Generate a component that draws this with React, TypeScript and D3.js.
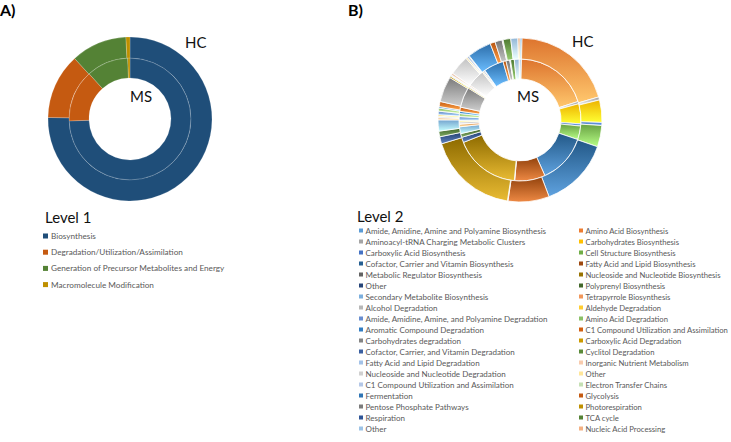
import React from 'react';
import * as d3 from 'd3';

// Level 1 (panel A)
const level1Categories = [
  'Biosynthesis',
  'Degradation/Utilization/Assimilation',
  'Generation of Precursor Metabolites and Energy',
  'Macromolecule Modification',
];
const level1HC = [75.3, 12.9, 11.0, 0.8];
const level1MS = [74.5, 13.8, 11.1, 0.6];
const level1Colors = ['#1F4E79', '#C55A11', '#548235', '#BF9000'];

// Level 2 (panel B), legend order
const level2Categories = [
  'Amide, Amidine, Amine and Polyamine Biosynthesis',
  'Amino Acid Biosynthesis',
  'Aminoacyl-tRNA Charging Metabolic Clusters',
  'Carbohydrates Biosynthesis',
  'Carboxylic Acid Biosynthesis',
  'Cell Structure Biosynthesis',
  'Cofactor, Carrier and Vitamin Biosynthesis',
  'Fatty Acid and Lipid Biosynthesis',
  'Metabolic Regulator Biosynthesis',
  'Nucleoside and Nucleotide Biosynthesis',
  'Other',
  'Polyprenyl Biosynthesis',
  'Secondary Metabolite Biosynthesis',
  'Tetrapyrrole Biosynthesis',
  'Alcohol Degradation',
  'Aldehyde Degradation',
  'Amide, Amidine, Amine, and Polyamine Degradation',
  'Amino Acid Degradation',
  'Aromatic Compound Degradation',
  'C1 Compound Utilization and Assimilation',
  'Carbohydrates degradation',
  'Carboxylic Acid Degradation',
  'Cofactor, Carrier, and Vitamin Degradation',
  'Cyclitol Degradation',
  'Fatty Acid and Lipid Degradation',
  'Inorganic Nutrient Metabolism',
  'Nucleoside and Nucleotide Degradation',
  'Other',
  'C1 Compound Utilization and Assimilation',
  'Electron Transfer Chains',
  'Fermentation',
  'Glycolysis',
  'Pentose Phosphate Pathways',
  'Photorespiration',
  'Respiration',
  'TCA cycle',
  'Other',
  'Nucleic Acid Processing',
];
const level2HC = [
  0.4, 20.0, 0.6, 4.4, 0.6, 4.2, 13.9, 8.1, 0.1, 17.8, 1.4, 1.1, 2.2, 0.4,
  0.3, 0.3, 0.7, 0.6, 0.3, 1.0, 5.0, 0.3, 0.1, 0.1, 0.1, 0.4, 3.9, 0.3, 0.4,
  0.1, 4.7, 1.0, 1.4, 0.1, 0.1, 1.5, 1.4, 0.4,
];
const level2MS = [
  0.4, 19.7, 0.6, 5.3, 0.6, 3.6, 13.1, 8.1, 0.1, 17.5, 1.4, 1.0, 1.8, 0.7,
  0.6, 0.4, 1.0, 0.8, 0.6, 1.1, 5.4, 0.3, 0.1, 0.1, 0.1, 0.3, 4.7, 0.3, 0.4,
  0.1, 5.3, 0.8, 1.0, 0.1, 0.1, 1.0, 1.3, 0.2,
];
const level2Colors = [
  '#5B9BD5', '#ED7D31', '#A5A5A5', '#FFC000', '#4472C4', '#70AD47',
  '#255E91', '#9E480E', '#636363', '#997300', '#264478', '#43682B',
  '#7CAFDD', '#F1975A', '#B7B7B7', '#FFCD33', '#698ED0', '#8CC168',
  '#327DC2', '#D26012', '#848484', '#CC9A00', '#3A5FA0', '#5A8A39',
  '#A3C2E8', '#F8CBAD', '#D0D0D0', '#FFE699', '#B4C7E7', '#C5E0B4',
  '#2F75B5', '#C55A11', '#7B7B7B', '#BF9000', '#2F5597', '#548235',
  '#9DC3E6', '#F4B183',
];

const FONT = 'Lato, "Open Sans", sans-serif';
const R_IN = 41;
const R_MID = 61;
const R_OUT = 82;

const pie = d3.pie<number>().sort(null).value((d) => d);
const arcInner = d3.arc<d3.PieArcDatum<number>>().innerRadius(R_IN).outerRadius(R_MID);
const arcOuter = d3.arc<d3.PieArcDatum<number>>().innerRadius(R_MID).outerRadius(R_OUT);

const gradId = (i: number) => `g2-${i}`;

const Donut: React.FC<{
  cx: number;
  cy: number;
  inner: number[];
  outer: number[];
  colors: string[];
  gradient?: boolean;
}> = ({ cx, cy, inner, outer, colors, gradient }) => {
  const fill = (i: number) => (gradient ? `url(#${gradId(i)})` : colors[i]);
  const stroke = gradient ? '#fff' : 'rgba(255,255,255,0.35)';
  const sw = gradient ? 0.8 : 0.5;
  return (
    <g transform={`translate(${cx},${cy})`}>
      {pie(inner).map((d, i) => (
        <path key={`i${i}`} d={arcInner(d) || ''} fill={fill(i)} stroke={stroke} strokeWidth={sw} />
      ))}
      {pie(outer).map((d, i) => (
        <path key={`o${i}`} d={arcOuter(d) || ''} fill={fill(i)} stroke={stroke} strokeWidth={sw} />
      ))}
    </g>
  );
};

const App: React.FC = () => {
  return (
    <svg
      width={731}
      height={442}
      style={{ position: 'absolute', left: 0, top: 0, background: '#fff' }}
      fontFamily={FONT}
    >
      <defs>
        {level2Colors.map((c, i) => {
          const top = d3.color(c)!.darker(0.2).formatHex();
          const bot = d3.interpolateRgb(d3.color(c)!.brighter(1.1).formatHex(), '#ffffff')(0.2);
          return (
            <linearGradient key={i} id={gradId(i)} x1="0" y1="0" x2="0" y2="1">
              <stop offset="0%" stopColor={top} />
              <stop offset="100%" stopColor={bot} />
            </linearGradient>
          );
        })}
      </defs>

      {/* Panel A */}
      <text x={0} y={16} fontSize={16} fontWeight="bold" fill="#000">A)</text>
      <Donut cx={130} cy={119} inner={level1MS} outer={level1HC} colors={level1Colors} />
      <text x={185} y={48} fontSize={15} fill="#111">HC</text>
      <text x={130} y={102} fontSize={15} fill="#111">MS</text>

      <text x={45} y={223} fontSize={15} fill="#111">Level 1</text>
      {level1Categories.map((c, i) => (
        <g key={c} transform={`translate(43,${236 + i * 16.2})`}>
          <rect x={0} y={-2.5} width={5} height={5} fill={level1Colors[i]} />
          <text x={8} y={3} fontSize={8.2} fill="#595959">{c}</text>
        </g>
      ))}

      {/* Panel B */}
      <text x={348} y={16} fontSize={16} fontWeight="bold" fill="#000">B)</text>
      <Donut cx={520} cy={120} inner={level2MS} outer={level2HC} colors={level2Colors} gradient />
      <text x={572} y={47} fontSize={15} fill="#111">HC</text>
      <text x={517} y={102} fontSize={15} fill="#111">MS</text>

      <text x={357} y={222} fontSize={15} fill="#111">Level 2</text>
      {level2Categories.map((c, i) => {
        const col = i % 2;
        const row = Math.floor(i / 2);
        const x = col === 0 ? 359 : 579;
        const y = 230.5 + row * 11;
        return (
          <g key={i} transform={`translate(${x},${y})`}>
            <rect x={0} y={-2} width={4} height={4} fill={level2Colors[i]} />
            <text x={6.5} y={3} fontSize={col === 0 ? 8 : 7.7} fill="#595959">{c}</text>
          </g>
        );
      })}
    </svg>
  );
};

export default App;
